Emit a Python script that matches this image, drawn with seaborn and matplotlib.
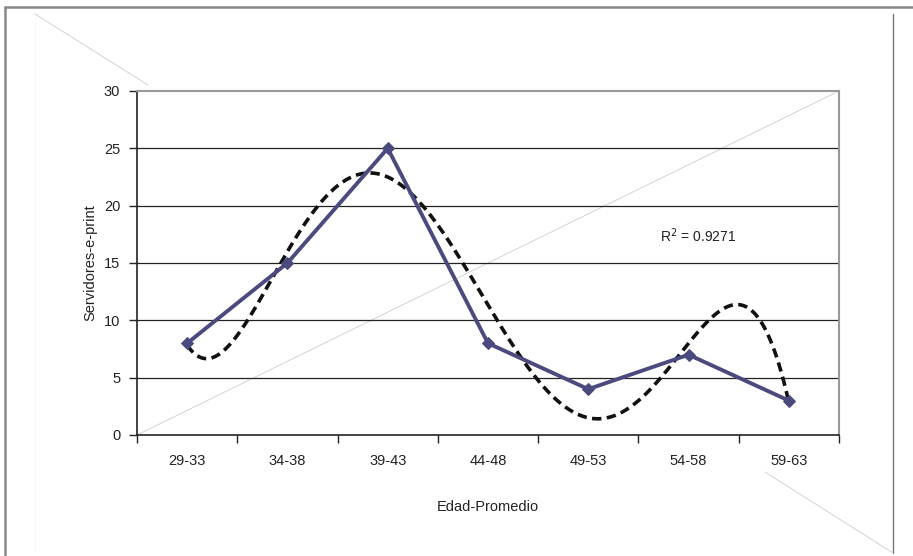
import numpy as np
import pandas as pd
import matplotlib
matplotlib.use("Agg")
import matplotlib.pyplot as plt
from matplotlib.lines import Line2D
import seaborn as sns

categories = ["29-33", "34-38", "39-43", "44-48", "49-53", "54-58", "59-63"]
servidores = [8, 15, 25, 8, 4, 7, 3]
y_ticks = [0, 5, 10, 15, 20, 25, 30]
r2_label = "R$^2$ = 0.9271"

sns.set_theme(style="white")
plt.rcParams['font.family'] = ['Liberation Sans', 'DejaVu Sans']

W, H = 913, 556
fig = plt.figure(figsize=(W / 100, H / 100), dpi=100)
ax = fig.add_axes([137 / W, 1 - 435 / H, (839 - 137) / W, (435 - 91) / H])

pos = np.arange(len(categories))
df = pd.DataFrame({"pos": pos, "val": servidores, "cat": categories})

# polynomial trendline (order 5) of the series
coef = np.polyfit(pos, servidores, 5)
xs = np.linspace(pos[0], pos[-1], 300)
trend = pd.DataFrame({"pos": xs, "val": np.polyval(coef, xs)})

# gridlines
for t in y_ticks[1:-1]:
    ax.axhline(t, color="#222222", lw=0.9, zorder=1)

sns.lineplot(data=trend, x="pos", y="val", ax=ax, color="#111111", lw=2.6,
             linestyle=(0, (2.6, 1.5)), zorder=3)
sns.lineplot(data=df, x="pos", y="val", ax=ax, color="#4b4a7e", lw=2.8,
             marker="D", markersize=6, markeredgecolor="#4b4a7e", zorder=4)

# diagonal inside plot
ax.plot([0, 1], [0, 1], transform=ax.transAxes, color="#cccccc", lw=0.6, zorder=0)

ax.set_xlim(-0.5, len(categories) - 0.5)
ax.set_ylim(0, 30)
ax.set_yticks(y_ticks)
ax.set_yticklabels([str(t) for t in y_ticks], fontsize=10.5, color="#222222")
ax.set_xticks(np.arange(-0.5, len(categories), 1.0))
ax.set_xticklabels([])
ax.set_xticks(pos, minor=True)
ax.set_xticklabels(categories, minor=True, fontsize=10.5, color="#222222")
ax.tick_params(axis="x", which="major", direction="out", length=6, width=1.0,
               color="#222222", bottom=True)
ax.tick_params(axis="x", which="minor", length=0, pad=14, bottom=True)
ax.tick_params(axis="y", direction="out", length=6, width=1.0, color="#222222",
               left=True, pad=6)

for side in ["left", "bottom"]:
    ax.spines[side].set_color("#222222")
    ax.spines[side].set_linewidth(1.2)
for side in ["top", "right"]:
    ax.spines[side].set_color("#999999")
    ax.spines[side].set_linewidth(1.5)

ax.set_xlabel("Edad-Promedio", fontsize=10.5, color="#222222", labelpad=23)
ax.set_ylabel("Servidores-e-print", fontsize=10.5, color="#222222", labelpad=5)

ax.text(698 / W, 1 - 236 / H, r2_label, transform=fig.transFigure,
        ha="center", va="center", fontsize=10, color="#222222")

def fl(x0, y0, x1, y1, **kw):
    fig.add_artist(Line2D([x0 / W, x1 / W], [1 - y0 / H, 1 - y1 / H], **kw))

# outer frame
fl(5, 7, W, 7, color="#888888", lw=1.8)
fl(5, 7, 5, H, color="#888888", lw=1.8)
fl(893, 14, 893, 553, color="#777777", lw=1.0)
fl(35, 14, 35, 553, color="#f4f4f4", lw=0.5)
# stray diagonals
fl(35, 14, 148, 85, color="#cccccc", lw=0.6)
fl(765, 472, 893, 553, color="#cccccc", lw=0.6)

fig.savefig("out.png", dpi=100)
